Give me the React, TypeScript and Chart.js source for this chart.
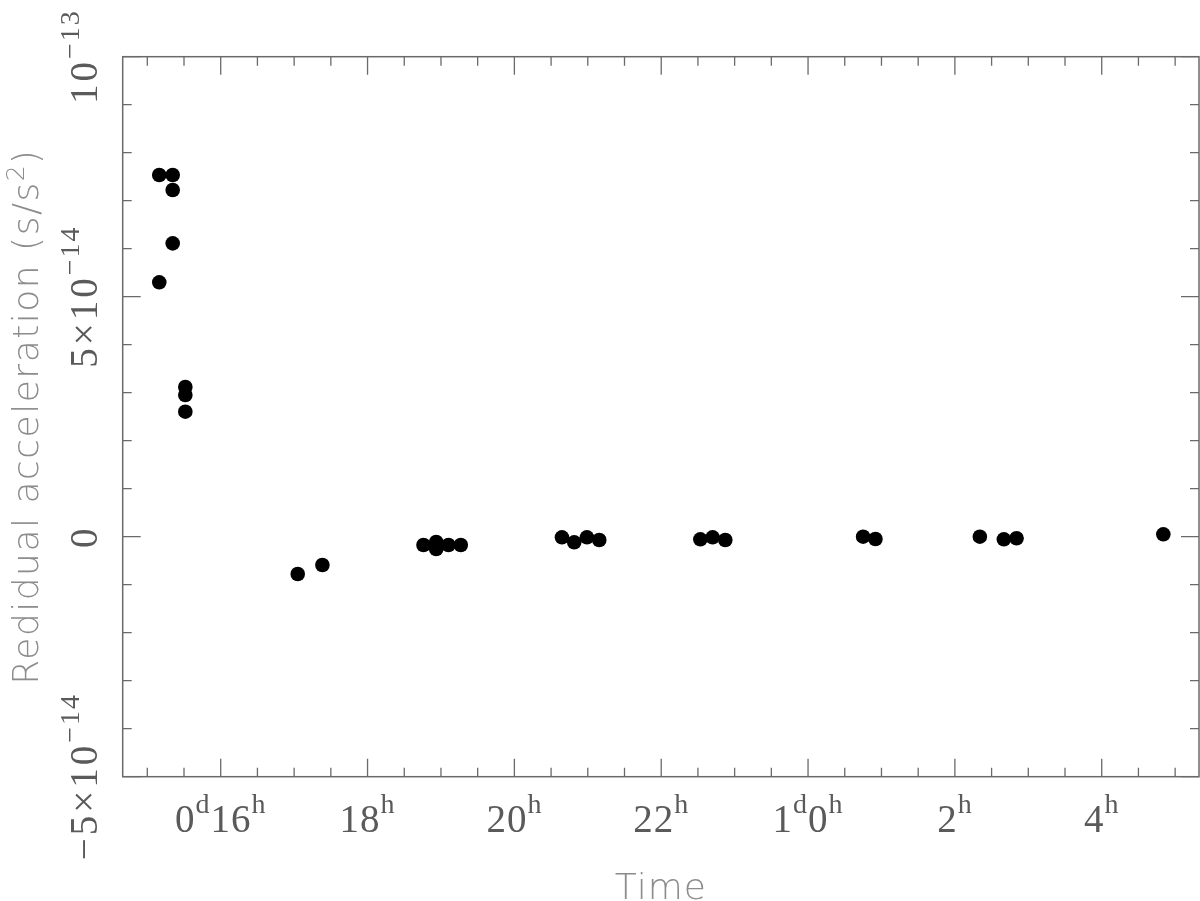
import React, { useEffect, useRef } from "react";
import { Chart, registerables } from "chart.js";

Chart.register(...registerables);

// ---- data (time in hours since 0^d 0^h, residual acceleration in s/s^2) ----
const timeHours = [
  15.163, 15.346, 15.346, 15.346, 15.163, 15.518, 15.518, 15.518,
  17.049, 17.385,
  18.762, 18.935, 18.935, 19.102, 19.27,
  20.648, 20.815, 20.988, 21.156,
  22.533, 22.7, 22.873,
  24.75, 24.918,
  26.34, 26.667, 26.84,
  28.839,
];
const residual = [
  7.535e-14, 7.535e-14, 7.223e-14, 6.11e-14, 5.3e-14, 3.119e-14, 2.952e-14, 2.604e-14,
  -0.777e-14, -0.59e-14,
  -0.173e-14, -0.11e-14, -0.256e-14, -0.173e-14, -0.173e-14,
  -0.0125e-14, -0.117e-14, -0.0125e-14, -0.069e-14,
  -0.054e-14, -0.0125e-14, -0.069e-14,
  0, -0.048e-14,
  0, -0.054e-14, -0.033e-14,
  0.05e-14,
];

// ---- axes ----
const xMin = 14.665;
const xMax = 29.325;
const yMin = -5e-14;
const yMax = 1e-13;
const xMinorStep = 0.5;
const yMinorStep = 1e-14;
const xMajorTicks = [16, 18, 20, 22, 24, 26, 28];
const xTickLabels = ["0^{d}16^{h}", "18^{h}", "20^{h}", "22^{h}", "1^{d}0^{h}", "2^{h}", "4^{h}"];
const yMajorTicks = [-5e-14, 0, 5e-14, 1e-13];
const yTickLabels = ["\u22125\u00d710^{\u221214}", "0", "5\u00d710^{\u221214}", "10^{\u221213}"];
const xTitle = "Time";
const yTitle = "Redidual acceleration (s/s^{2})";

const axisColor = "#6a6a6a";
const tickLabelColor = "#5a5a5a";
const titleColor = "#8c8c8c";
const pointColor = "#000000";

type Seg = { text: string; sup: boolean };

function parseRich(s: string): Seg[] {
  const segs: Seg[] = [];
  const re = /\^\{([^}]*)\}/g;
  let last = 0;
  let m: RegExpExecArray | null;
  while ((m = re.exec(s)) !== null) {
    if (m.index > last) segs.push({ text: s.slice(last, m.index), sup: false });
    segs.push({ text: m[1], sup: true });
    last = m.index + m[0].length;
  }
  if (last < s.length) segs.push({ text: s.slice(last), sup: false });
  return segs;
}

function drawRich(
  ctx: CanvasRenderingContext2D,
  s: string,
  x: number,
  y: number,
  mainFont: string,
  supFont: string,
  raise: number,
  mainSpacing: string,
  supSpacing: string
) {
  const segs = parseRich(s);
  const widths = segs.map((g) => {
    ctx.font = g.sup ? supFont : mainFont;
    (ctx as any).letterSpacing = g.sup ? supSpacing : mainSpacing;
    return ctx.measureText(g.text).width;
  });
  const total = widths.reduce((a, b) => a + b, 0);
  let cx = x - total / 2;
  segs.forEach((g, i) => {
    ctx.font = g.sup ? supFont : mainFont;
    (ctx as any).letterSpacing = g.sup ? supSpacing : mainSpacing;
    ctx.fillText(g.text, cx, g.sup ? y - raise : y);
    cx += widths[i];
  });
  (ctx as any).letterSpacing = "0px";
}

const framePlugin = {
  id: "pgframe",
  afterDraw(chart: any) {
    const { ctx, chartArea: a, scales } = chart;
    const xs = scales.x;
    const ys = scales.y;
    ctx.save();
    ctx.strokeStyle = axisColor;
    ctx.lineWidth = 1.5;
    ctx.strokeRect(a.left, a.top, a.right - a.left, a.bottom - a.top);
    ctx.lineWidth = 1.3;
    const majorLen = 18;
    const minorLen = 9;
    ctx.beginPath();
    const nX = Math.round((xMax - xMin) / xMinorStep) + 2;
    const x0 = Math.ceil(xMin / xMinorStep);
    for (let i = 0; i < nX; i++) {
      const v = (x0 + i) * xMinorStep;
      if (v > xMax + 1e-9) break;
      const major = xMajorTicks.some((t) => Math.abs(t - v) < 1e-6);
      const len = major ? majorLen : minorLen;
      const px = xs.getPixelForValue(v);
      ctx.moveTo(px, a.bottom);
      ctx.lineTo(px, a.bottom - len);
      ctx.moveTo(px, a.top);
      ctx.lineTo(px, a.top + len);
    }
    const nY = Math.round((yMax - yMin) / yMinorStep);
    for (let i = 0; i <= nY; i++) {
      const v = yMin + i * yMinorStep;
      const major = yMajorTicks.some((t) => Math.abs(t - v) < 1e-20);
      const len = major ? majorLen : minorLen;
      const py = ys.getPixelForValue(v);
      ctx.moveTo(a.left, py);
      ctx.lineTo(a.left + len, py);
      ctx.moveTo(a.right, py);
      ctx.lineTo(a.right - len, py);
    }
    ctx.stroke();

    // tick labels
    ctx.fillStyle = tickLabelColor;
    ctx.textBaseline = "alphabetic";
    ctx.textAlign = "left";
    const mainFont = "39px 'Liberation Serif', serif";
    const supFont = "28px 'Liberation Serif', serif";
    xMajorTicks.forEach((t, i) => {
      const px = xs.getPixelForValue(t);
      drawRich(ctx, xTickLabels[i], px, a.bottom + 55.5, mainFont, supFont, 19, "1px", "1px");
    });
    yMajorTicks.forEach((t, i) => {
      const py = ys.getPixelForValue(t);
      ctx.save();
      ctx.translate(a.left - 25.5, py);
      ctx.rotate(-Math.PI / 2);
      drawRich(ctx, yTickLabels[i], 0, 0, mainFont, supFont, 18, "3px", "2px");
      ctx.restore();
    });

    // axis titles
    ctx.fillStyle = titleColor;
    const tFont = "200 36px 'DejaVu Sans', sans-serif";
    const tSup = "200 25px 'DejaVu Sans', sans-serif";
    drawRich(ctx, xTitle, (a.left + a.right) / 2, 899, tFont, tSup, 14, "1px", "1px");
    ctx.save();
    ctx.translate(38, (a.top + a.bottom) / 2);
    ctx.rotate(-Math.PI / 2);
    drawRich(ctx, yTitle, 0, 0, tFont, tSup, 14, "1.5px", "1px");
    ctx.restore();
    ctx.restore();
  },
};

export default function App() {
  const canvasRef = useRef<HTMLCanvasElement | null>(null);
  useEffect(() => {
    document.body.style.margin = "0";
    document.body.style.overflow = "hidden";
    document.documentElement.style.overflow = "hidden";
    if (!canvasRef.current) return;
    const chart = new Chart(canvasRef.current, {
      type: "scatter",
      data: {
        datasets: [
          {
            data: timeHours.map((t, i) => ({ x: t, y: residual[i] })),
            backgroundColor: pointColor,
            borderColor: pointColor,
            borderWidth: 0,
            pointRadius: 7.3,
            pointHoverRadius: 7.3,
          },
        ],
      },
      options: {
        animation: false,
        responsive: true,
        maintainAspectRatio: false,
        devicePixelRatio: 1,
        layout: {
          autoPadding: false,
          padding: { left: 122.7, top: 56.7, right: 1, bottom: 124.3 },
        },
        plugins: { legend: { display: false }, tooltip: { enabled: false } },
        scales: {
          x: { type: "linear", min: xMin, max: xMax, display: false },
          y: { type: "linear", min: yMin, max: yMax, display: false },
        },
      },
      plugins: [framePlugin],
    });
    return () => chart.destroy();
  }, []);
  return (
    <div
      style={{
        position: "absolute",
        left: 0,
        top: 0,
        width: 1200,
        height: 901,
        overflow: "hidden",
        background: "#fff",
      }}
    >
      <canvas ref={canvasRef} style={{ display: "block" }} />
    </div>
  );
}
